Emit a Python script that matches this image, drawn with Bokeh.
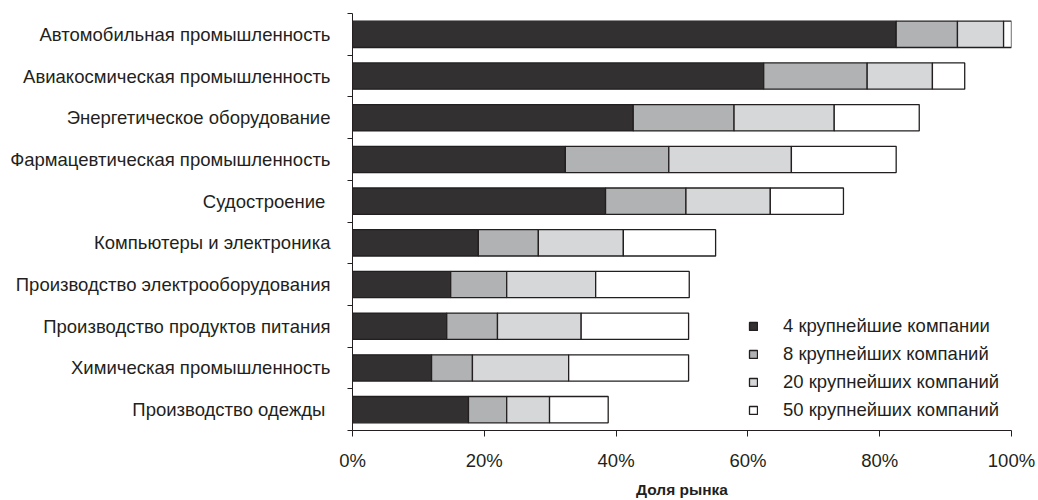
from bokeh.plotting import figure
from bokeh.models import Range1d, FixedTicker, PrintfTickFormatter, ColumnDataSource, Legend, LegendItem
from bokeh.embed import file_html
from bokeh.resources import INLINE

# Industries, top to bottom
industries = [
    "Автомобильная промышленность",
    "Авиакосмическая промышленность",
    "Энергетическое оборудование",
    "Фармацевтическая промышленность",
    "Судостроение ",
    "Компьютеры и электроника",
    "Производство электрооборудования",
    "Производство продуктов питания",
    "Химическая промышленность",
    "Производство одежды ",
]

# Cumulative market share (%) of the largest companies
top4 = [82.5, 62.4, 42.6, 32.3, 38.4, 19.1, 14.9, 14.3, 12.0, 17.6]
top8 = [91.8, 78.1, 57.9, 48.0, 50.6, 28.2, 23.4, 22.0, 18.2, 23.4]
top20 = [98.8, 88.0, 73.1, 66.6, 63.4, 41.1, 36.9, 34.7, 32.8, 29.9]
top50 = [100.0, 92.9, 86.0, 82.5, 74.5, 55.1, 51.1, 51.0, 51.0, 38.8]

series_labels = [
    "4 крупнейшие компании",
    "8 крупнейших компаний",
    "20 крупнейших компаний",
    "50 крупнейших компаний",
]
x_ticks = [0, 20, 40, 60, 80, 100]

FONT = "Liberation Sans"
INK = "#231f20"
fills = ["#333032", "#b1b2b4", "#d6d7d9", "#ffffff"]

p = figure(
    width=1038, height=500,
    output_backend="svg", toolbar_location=None,
    x_range=Range1d(0, 100), y_range=Range1d(10, 0),
    min_border_left=352, min_border_right=27,
    min_border_top=13, min_border_bottom=66,
)
p.outline_line_color = None
p.xgrid.visible = False
p.ygrid.visible = False
p.background_fill_color = "white"
p.border_fill_color = "white"

ypos = [i + 0.5 for i in range(len(industries))]
stacks = [top4, top8, top20, top50]
items = []
prev = [0.0] * len(industries)
for vals, color, label in zip(stacks, fills, series_labels):
    src = ColumnDataSource(dict(y=ypos, left=prev, right=vals))
    r = p.hbar(y="y", left="left", right="right", height=0.63, source=src,
               fill_color=color, line_color=INK, line_width=1.3)
    items.append(LegendItem(label=label, renderers=[r]))
    prev = vals

# Category axis: names centred on bars, ticks between rows
ya = p.yaxis[0]
ya.ticker = FixedTicker(ticks=ypos, minor_ticks=list(range(len(industries) + 1)))
ya.major_label_overrides = {y: name for y, name in zip(ypos, industries)}
ya.major_tick_line_color = None
ya.major_tick_out = 0
ya.major_tick_in = 0
ya.minor_tick_out = 5
ya.minor_tick_in = 0
ya.minor_tick_line_color = INK
ya.axis_line_color = INK
ya.major_label_standoff = 17
ya.major_label_text_font = FONT
ya.major_label_text_font_size = "18.5px"
ya.major_label_text_color = INK

xa = p.xaxis[0]
xa.ticker = FixedTicker(ticks=x_ticks, minor_ticks=[])
xa.formatter = PrintfTickFormatter(format="%d%%")
xa.major_tick_out = 6
xa.major_tick_in = 0
xa.major_tick_line_color = INK
xa.axis_line_color = INK
xa.major_label_standoff = 13
xa.major_label_text_font = FONT
xa.major_label_text_font_size = "18.5px"
xa.major_label_text_color = INK
xa.axis_label = "Доля рынка"
xa.axis_label_text_font = FONT
xa.axis_label_text_font_size = "15.5px"
xa.axis_label_text_font_style = "bold"
xa.axis_label_text_color = INK
xa.axis_label_standoff = 7

legend = Legend(
    items=items, location=(396, 9),
    glyph_width=10, glyph_height=10, label_standoff=25,
    label_height=20, spacing=6, padding=0, margin=0,
    border_line_color=None, background_fill_alpha=0,
    label_text_font=FONT, label_text_font_size="18.5px", label_text_color=INK,
)
p.add_layout(legend)

open("out.html", "w").write(file_html(p, INLINE))
